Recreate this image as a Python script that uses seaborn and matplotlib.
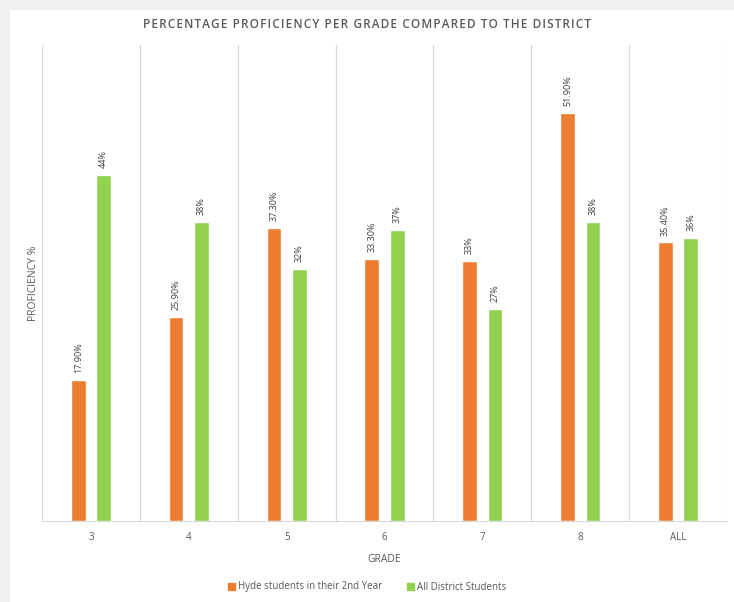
import pandas as pd
import numpy as np
import matplotlib.pyplot as plt
import seaborn as sns
from matplotlib.patches import Rectangle

grades = ['3', '4', '5', '6', '7', '8', 'ALL']
hyde = [17.9, 25.9, 37.3, 33.3, 33.0, 51.9, 35.4]
district = [44, 38, 32, 37, 27, 38, 36]
hyde_labels = ['17.90%', '25.90%', '37.30%', '33.30%', '33%', '51.90%', '35.40%']
district_labels = ['44%', '38%', '32%', '37%', '27%', '38%', '36%']
series = ['Hyde students in their 2nd Year', 'All District Students']

df = pd.DataFrame({
    'grade': grades * 2,
    'value': hyde + district,
    'series': [series[0]] * len(grades) + [series[1]] * len(grades),
})

sns.set_style('white')
plt.rcParams['font.family'] = ['Open Sans', 'DejaVu Sans']

fig = plt.figure(figsize=(7.34, 6.02), dpi=100)
fig.patch.set_facecolor('#efefef')
# white chart area inside the grey frame
fig.add_artist(Rectangle((10 / 734, 0), 1, 1 - 10 / 602, transform=fig.transFigure,
                         facecolor='white', edgecolor='none', zorder=0))

ax = fig.add_axes([42 / 734, 1 - 521 / 602, 685 / 734, (521 - 45) / 602])
ax.set_facecolor('none')

sns.barplot(data=df, x='grade', y='value', hue='series', order=grades,
            palette=['#ED7D31', '#92D050'], saturation=1, width=0.52, gap=0.42,
            ax=ax, legend=False)

for cont, labs in zip(ax.containers, [hyde_labels, district_labels]):
    ax.bar_label(cont, labels=labs, rotation=90, padding=5, fontsize=6.5,
                 color='#404040')

ax.set_ylim(0, 60.5)
ax.set_xlim(-0.5, len(grades) - 0.5)
ax.set_yticks([])
ax.set_xticks(np.arange(-0.5, len(grades)), minor=True)
ax.grid(which='minor', axis='x', color='#d9d9d9', linewidth=0.9)
ax.tick_params(axis='x', which='both', length=0, colors='#595959', labelsize=7, pad=8)
for s in ['top', 'right', 'left']:
    ax.spines[s].set_visible(False)
ax.spines['bottom'].set_color('#d9d9d9')

ax.set_xlabel('GRADE', fontsize=7.5, color='#595959', labelpad=8)
ax.set_ylabel('PROFICIENCY %', fontsize=7.5, color='#595959', labelpad=2)

title = 'PERCENTAGE PROFICIENCY PER GRADE COMPARED TO THE DISTRICT'
fig.text(0.5, 1 - 24 / 602, '\u200a'.join(title),
         ha='center', va='center', fontsize=8.5, fontweight='semibold', color='#595959')

handles = [Rectangle((0, 0), 1, 1, color=c) for c in ['#ED7D31', '#92D050']]
fig.legend(handles, series, loc='center', bbox_to_anchor=(0.5, 1 - 587 / 602),
           ncol=2, frameon=False, fontsize=7, handlelength=0.7, handleheight=0.7,
           columnspacing=2.6, handletextpad=0.3, labelcolor='#595959')

fig.savefig('out.png', dpi=100)
